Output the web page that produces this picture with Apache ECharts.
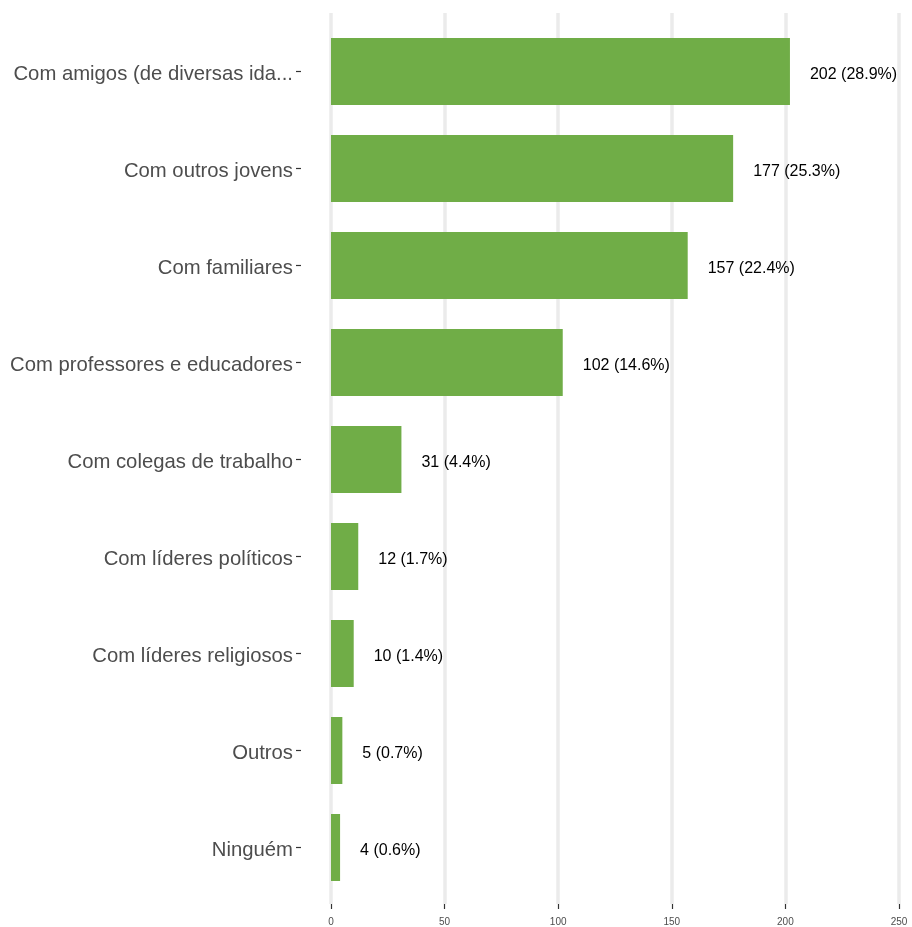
<!DOCTYPE html>
<html>
<head>
<meta charset="utf-8">
<script src="https://cdn.jsdelivr.net/npm/echarts@6/dist/echarts.min.js"></script>
<style>
  html, body { margin: 0; padding: 0; background: #ffffff; }
  #chart { width: 912px; height: 927px; }
</style>
</head>
<body>
<div id="chart"></div>
<script>
// Answer categories, top to bottom
const categories = [
  'Com amigos (de diversas ida...',
  'Com outros jovens',
  'Com familiares',
  'Com professores e educadores',
  'Com colegas de trabalho',
  'Com líderes políticos',
  'Com líderes religiosos',
  'Outros',
  'Ninguém'
];
// Number of responses per category
const counts = [202, 177, 157, 102, 31, 12, 10, 5, 4];
// Share of all responses, as printed beside each bar
const shares = ['28.9%', '25.3%', '22.4%', '14.6%', '4.4%', '1.7%', '1.4%', '0.7%', '0.6%'];
// Value axis ticks
const xTicks = [0, 50, 100, 150, 200, 250];

const chart = echarts.init(document.getElementById('chart'), null, { renderer: 'canvas' });

const xMin = xTicks[0];
const xMax = xTicks[xTicks.length - 1];
const xStep = xTicks[1] - xTicks[0];
// the panel is padded on the left so the category ticks sit away from the zero line
const xPad = 13.2;

chart.setOption({
  backgroundColor: '#ffffff',
  animation: false,
  grid: [
    // panel: vertical grid lines and the value axis
    { left: 331, right: 13, top: 13, bottom: 23 },
    // bars and category axis
    { left: 301, right: 13, top: 23, bottom: 31 }
  ],
  xAxis: [
    {
      gridIndex: 0,
      type: 'value',
      min: xMin,
      max: xMax,
      interval: xStep,
      axisLine: { show: false },
      axisTick: { show: true, length: 5, lineStyle: { color: '#333333', width: 1.2 } },
      axisLabel: {
        color: '#4d4d4d',
        fontSize: 10,
        fontFamily: 'Liberation Sans, Arial, sans-serif',
        margin: 13
      },
      splitLine: { show: true, lineStyle: { color: '#ebebeb', width: 3.5 } }
    },
    {
      gridIndex: 1,
      type: 'value',
      min: xMin - xPad,
      max: xMax,
      show: false
    }
  ],
  yAxis: [
    {
      gridIndex: 0,
      type: 'value',
      show: false,
      min: 0,
      max: 1
    },
    {
      gridIndex: 1,
      type: 'category',
      data: categories,
      inverse: true,
      axisLine: { show: false, onZero: false },
      axisTick: {
        show: true,
        alignWithLabel: true,
        length: 5,
        lineStyle: { color: '#333333', width: 1.2 }
      },
      axisLabel: {
        color: '#4d4d4d',
        fontSize: 20.3,
        fontFamily: 'Liberation Sans, Arial, sans-serif',
        margin: 8,
        verticalAlign: 'top',
        lineHeight: 5
      },
      splitLine: { show: false }
    }
  ],
  series: [
    {
      type: 'bar',
      xAxisIndex: 1,
      yAxisIndex: 1,
      data: counts,
      barWidth: 67,
      itemStyle: { color: '#70ad47' },
      label: {
        show: true,
        position: 'right',
        distance: 20,
        color: '#000000',
        fontSize: 16,
        fontFamily: 'Liberation Sans, Arial, sans-serif',
        verticalAlign: 'top',
        lineHeight: 6,
        formatter: p => counts[p.dataIndex] + ' (' + shares[p.dataIndex] + ')'
      }
    }
  ]
});
</script>
</body>
</html>
